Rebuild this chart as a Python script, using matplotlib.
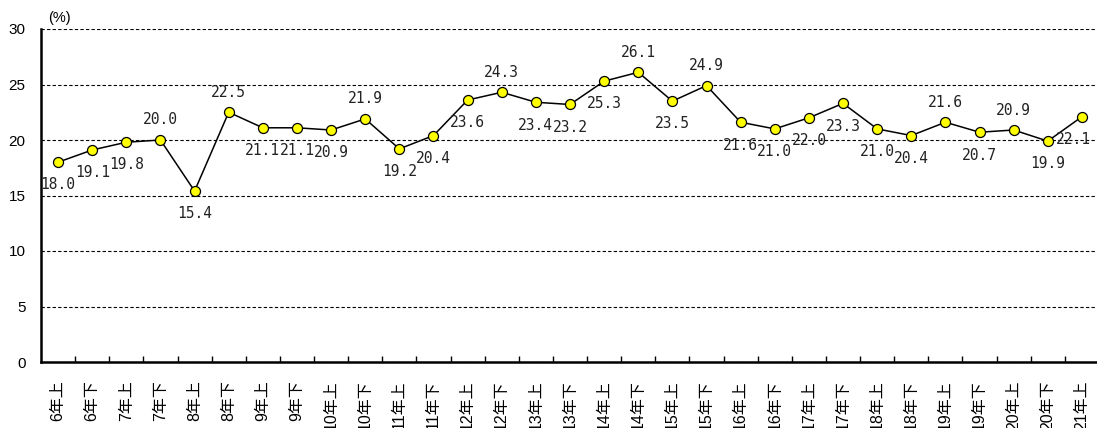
import numpy as np
import matplotlib
matplotlib.use("Agg")
import matplotlib.pyplot as plt

# ----------------------------
# data
# ----------------------------
periods = [
    "6年上", "6年下", "7年上", "7年下", "8年上", "8年下", "9年上", "9年下",
    "10年上", "10年下", "11年上", "11年下", "12年上", "12年下", "13年上", "13年下",
    "14年上", "14年下", "15年上", "15年下", "16年上", "16年下", "17年上", "17年下",
    "18年上", "18年下", "19年上", "19年下", "20年上", "20年下", "21年上",
]
rates = [
    18.0, 19.1, 19.8, 20.0, 15.4, 22.5, 21.1, 21.1, 20.9, 21.9, 19.2,
    20.4, 23.6, 24.3, 23.4, 23.2, 25.3, 26.1, 23.5, 24.9, 21.6, 21.0,
    22.0, 23.3, 21.0, 20.4, 21.6, 20.7, 20.9, 19.9, 22.1,
]
# which labels sit above the marker
label_above = {3, 5, 9, 13, 17, 19, 26, 28}

plt.rcParams["font.family"] = ["Liberation Sans", "Noto Sans CJK JP"]

fig = plt.figure(figsize=(10.97, 4.28), dpi=100)
ax = fig.add_axes([41 / 1097, 1 - 362 / 428, 1058 / 1097, 333 / 428])

x = np.arange(len(periods))
ax.plot(x, rates, color="black", lw=1.1, marker="o", ms=7.2,
        mfc="#FFFF00", mec="black", mew=0.9, zorder=3, clip_on=False)

for i, v in enumerate(rates):
    # last label would run off the right edge
    dx = -6 if i == len(rates) - 1 else 0
    if i in label_above:
        ax.annotate(f"{v:.1f}", (i, v), xytext=(dx, 9), textcoords="offset points",
                    ha="center", va="bottom", fontsize=10.5, family="DejaVu Sans Mono",
                    color="#222222")
    else:
        ax.annotate(f"{v:.1f}", (i, v), xytext=(dx, -11), textcoords="offset points",
                    ha="center", va="top", fontsize=10.5, family="DejaVu Sans Mono",
                    color="#222222")

ax.set_xlim(-0.5, len(periods) - 0.5)
ax.set_ylim(0, 30)
ax.set_yticks(range(0, 31, 5))
ax.yaxis.grid(True, linestyle=(0, (3, 2)), color="black", lw=0.8)
ax.set_axisbelow(True)

ax.set_xticks(x)
ax.set_xticklabels(periods, rotation=90, fontsize=11.5)
ax.set_xticks(np.arange(0.5, len(periods) - 0.5, 1), minor=True)
ax.tick_params(axis="x", which="major", length=0, pad=13)
ax.tick_params(axis="x", which="minor", direction="in", length=4, width=1)
ax.tick_params(axis="y", length=0, labelsize=11, pad=11)

for s in ["top", "right"]:
    ax.spines[s].set_visible(False)
ax.spines["left"].set_linewidth(1.8)
ax.spines["bottom"].set_linewidth(1.8)

fig.text(48 / 1097, 1 - 18 / 428, "(%)", fontsize=10.5, va="center", ha="left")

fig.savefig("out.png", dpi=100)
plt.close(fig)
